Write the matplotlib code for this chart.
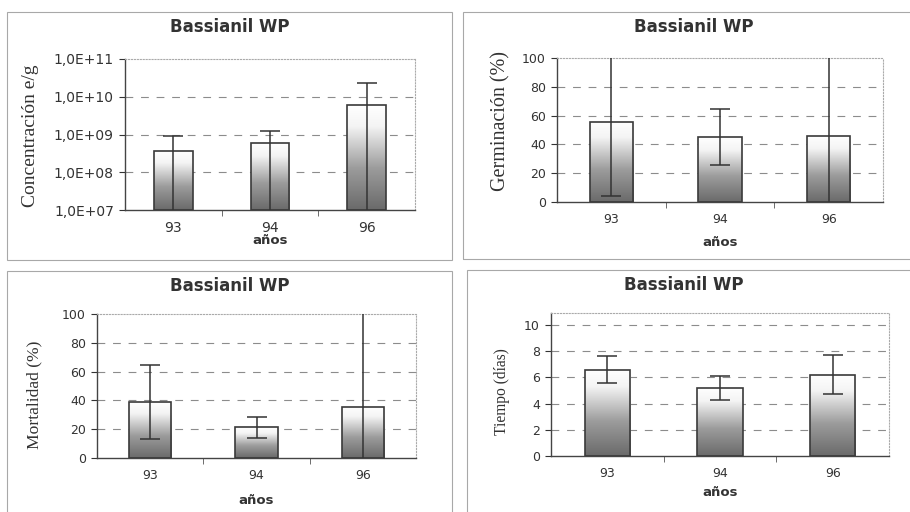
import numpy as np
import matplotlib
matplotlib.use("Agg")
import matplotlib.pyplot as plt
from matplotlib.colors import LinearSegmentedColormap
from matplotlib.patches import Rectangle
from matplotlib.ticker import FixedLocator, FixedFormatter

# data
years = ["93", "94", "96"]
title = "Bassianil WP"
xlabel = "años"

conc_vals = [3.6e8, 6.1e8, 5.9e9]
conc_errs = [5.5e8, 6.3e8, 1.7e10]
conc_ticks = [1e7, 1e8, 1e9, 1e10, 1e11]
conc_ticklabels = ["1,0E+07", "1,0E+08", "1,0E+09", "1,0E+10", "1,0E+11"]

germ_vals = [55.6, 45.1, 46.1]
germ_errs = [51.4, 19.2, 60.0]

mort_vals = [38.8, 21.2, 35.6]
mort_errs = [25.6, 7.5, 70.0]

time_vals = [6.58, 5.19, 6.2]
time_errs = [1.05, 0.9, 1.5]

plt.rcParams['font.family'] = ['DejaVu Sans']
TXT = "#333333"

grad_cmap = LinearSegmentedColormap.from_list(
    "bar", [(0.0, "#6a6a6a"), (0.4, "#9c9c9c"), (0.8, "#f4f4f4"), (1.0, "#ffffff")])

W, H = 910, 512


def draw_panel(fig, rect, box, vals, errs, ylabel, ylim, yticks,
               yticklabels=None, log=False, xlab_y=None, ylab_size=12,
               ylab_pos=(-0.15, 0.5), tick_size=9, title_x=None):
    ax = fig.add_axes(rect)
    x = np.arange(len(years))
    if log:
        ax.set_yscale("log")
    ax.set_xlim(-0.5, len(years) - 0.5)
    ax.set_ylim(*ylim)
    ax.set_autoscale_on(False)

    bottom = ylim[0] if log else 0
    heights = np.array(vals) - bottom
    bars = ax.bar(x, heights, bottom=bottom, width=0.4, facecolor="none",
                  edgecolor="#3a3a3a", linewidth=1.2, zorder=3)
    # vertical shading inside each bar
    grad = np.linspace(0, 1, 256).reshape(-1, 1)
    inv = ax.transAxes.inverted()
    for b in bars:
        ext = b.get_window_extent()
        (x0, y0), (x1, y1) = inv.transform([[ext.x0, ext.y0], [ext.x1, ext.y1]])
        im = ax.imshow(grad, cmap=grad_cmap, origin="lower", aspect="auto",
                       extent=[x0, x1, y0, y1], transform=ax.transAxes,
                       interpolation="bilinear", zorder=2)
        im.set_clip_path(b)
    ax.set_xlim(-0.5, len(years) - 0.5)
    ax.set_ylim(*ylim)

    ax.errorbar(x, vals, yerr=errs, fmt="none", ecolor="#333333",
                elinewidth=1.1, capsize=7, capthick=1.1, zorder=4)

    ax.yaxis.set_major_locator(FixedLocator(yticks))
    if yticklabels is not None:
        ax.yaxis.set_major_formatter(FixedFormatter(yticklabels))
    ax.yaxis.set_minor_locator(FixedLocator([]))
    ax.set_xticks(x)
    ax.set_xticklabels(years)
    ax.set_xticks(x[:-1] + 0.5, minor=True)
    ax.tick_params(axis="x", which="major", length=0, labelsize=tick_size,
                   pad=8, colors=TXT)
    ax.tick_params(axis="x", which="minor", length=4, direction="out",
                   color="#555555")
    ax.tick_params(axis="y", which="major", length=4, direction="out",
                   labelsize=tick_size, colors=TXT, pad=4)

    for t in yticks[1:-1] if yticks[-1] >= ylim[1] else yticks[1:]:
        ax.axhline(t, color="#8c8c8c", linestyle=(0, (7, 7)), linewidth=0.8,
                   zorder=1)

    for s in ("left", "bottom"):
        ax.spines[s].set_color("#444444")
        ax.spines[s].set_linewidth(1.0)
    for s in ("top", "right"):
        ax.spines[s].set_color("#aaaaaa")
        ax.spines[s].set_linewidth(0.8)
        ax.spines[s].set_linestyle(":")

    ax.set_ylabel(ylabel, family=["Liberation Serif", "DejaVu Serif"],
                  fontsize=ylab_size, color=TXT)
    ax.yaxis.set_label_coords(*ylab_pos)

    bx, by, bw, bh = box
    fig.patches.append(Rectangle((bx, by), bw, bh, transform=fig.transFigure,
                                 fill=False, edgecolor="#a8a8a8", linewidth=0.8))
    tx = bx + bw / 2 if title_x is None else title_x / W
    fig.text(tx, by + bh - 15 / H, title,
             ha="center", va="center", fontsize=12, fontweight="bold",
             color=TXT)
    fig.text(rect[0] + rect[2] / 2, xlab_y, xlabel, ha="center", va="center",
             fontsize=9.5, fontweight="bold", color=TXT)
    return ax


fig = plt.figure(figsize=(W / 100, H / 100), dpi=100)


def fr(l, t, r, b):
    return [l / W, (H - b) / H, (r - l) / W, (b - t) / H]


draw_panel(fig, fr(125, 59, 415, 210), fr(7, 12, 452, 260), conc_vals, conc_errs,
           "Concentración e/g", (1e7, 1e11), conc_ticks, conc_ticklabels,
           log=True, xlab_y=(H - 240) / H, ylab_size=14, ylab_pos=(-0.297, 0.49),
           tick_size=10)
draw_panel(fig, fr(557, 58, 883, 202), fr(463, 12, 930, 259), germ_vals, germ_errs,
           "Germinación (%)", (0, 100), [0, 20, 40, 60, 80, 100],
           xlab_y=(H - 242) / H, ylab_size=14.5, ylab_pos=(-0.144, 0.5625),
           title_x=694)
draw_panel(fig, fr(97, 314, 416, 458), fr(7, 271, 452, 515), mort_vals, mort_errs,
           "Mortalidad (%)", (0, 100), [0, 20, 40, 60, 80, 100],
           xlab_y=(H - 501) / H, ylab_size=12.6, ylab_pos=(-0.172, 0.4375))
draw_panel(fig, fr(551, 313, 889, 456), fr(467, 270, 930, 515), time_vals, time_errs,
           "Tiempo (días)", (0, 10.9), [0, 2, 4, 6, 8, 10],
           xlab_y=(H - 493) / H, ylab_size=11.2, ylab_pos=(-0.122, 0.448),
           title_x=684)

fig.savefig("out.png", dpi=100)
